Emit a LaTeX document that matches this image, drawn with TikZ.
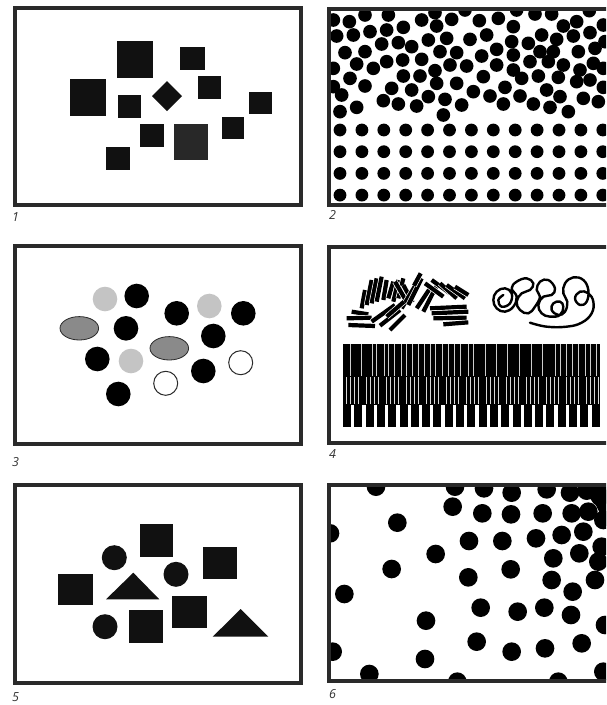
\documentclass[tikz,border=0pt]{standalone}
\usepackage{fontspec}
\newfontfamily\lblfont{Open Sans}
\definecolor{framegray}{HTML}{2A2A2A}
\definecolor{sqblack}{HTML}{111111}
\definecolor{sqdark}{HTML}{282828}
\definecolor{lightdot}{HTML}{C4C4C4}
\definecolor{ellgray}{HTML}{8A8A8A}
\definecolor{lblgray}{HTML}{333333}
\begin{document}
\begin{tikzpicture}[x=1pt,y=-1pt,
  frame/.style={draw=framegray, line width=4pt},
  sq/.style={fill=sqblack},
  dot/.style={fill=black},
  ltdot/.style={fill=lightdot},
  ell/.style={fill=ellgray, draw=framegray, line width=0.8pt},
  opendot/.style={fill=white, draw=framegray, line width=1pt},
  stk/.style={draw=black, line width=4.2pt, preaction={draw=white, line width=5.6pt}},
  scrib/.style={draw=black, line width=2.4pt, line cap=round, line join=round},
  lbl/.style={font=\lblfont\itshape\fontsize{12.5}{14}\selectfont, text=lblgray, anchor=base west, inner sep=0pt}]
\useasboundingbox (0,0) rectangle (606,705);
\fill[white] (0,0) rectangle (606,705);
\begin{scope}
\clip (0,0) rectangle (606,705);

% ---------------- Panel 1
\begin{scope}
\clip (17,10) rectangle (299,203);
\fill[sq] (117,41) rectangle (153,78);
\fill[sq] (180,47) rectangle (205,70);
\fill[sq] (70,79) rectangle (106,116);
\fill[sq] (167,81) -- (182,96) -- (167,111) -- (152,96) -- cycle;
\fill[sq] (118,95) rectangle (141,118);
\fill[sq] (198,76) rectangle (221,99);
\fill[sq] (249,92) rectangle (272,114);
\fill[sq] (140,124) rectangle (164,147);
\fill[sqdark] (174,124) rectangle (208,160);
\fill[sq] (222,117) rectangle (244,139);
\fill[sq] (106,147) rectangle (130,170);
\end{scope}
\draw[frame] (15,8) rectangle (301,205);
\node[lbl] (l1) at (12,221) {1};

% ---------------- Panel 2
\begin{scope}
\clip (331,11) rectangle (618,203);
\foreach \cx in {0,...,12}
  \foreach \cy in {0,...,3}
    \fill[dot] ({340+21.9*\cx},{130+21.7*\cy}) circle[radius=6.4];
\begin{scope}[shift={(320,0)}, scale=1/3]
\foreach \x/\y in {40/60, 88/65, 135/45, 205/45, 305/60, 345/38, 395/58, 435/30, 478/62, 535/55, 590/30, 645/42, 695/42, 770/65, 808/32, 850/75,
50/108, 100/105, 150/95, 200/90, 250/82, 350/78, 500/105, 580/80, 665/105, 730/78, 810/98, 710/118, 760/108,
75/158, 135/155, 185/132, 235/128, 275/140, 325/120, 380/115, 450/118, 360/155, 410/158, 530/148, 575/125, 580/165, 625/130, 660/155, 700/155, 775/155, 825/145, 855/125,
40/205, 110/192, 160/205, 200/185, 248/180, 305/178, 345/212, 390/195, 440/198, 485/168, 530/195, 580/210, 630/185, 685/185, 730/195, 780/210, 820/190, 850/205,
90/235, 135/258, 40/260, 250/228, 300/228, 350/250, 410/250, 490/230, 555/262, 605/235, 655/228, 715/232, 770/245, 810/240, 850/262, 215/265, 275/270, 460/275,
65/285, 60/335, 110/322, 190/302, 235/312, 290/318, 325/290, 375/298, 370/345, 425/315, 510/288, 550/312, 600/288, 640/312, 690/322, 680/270, 720/290, 745/335, 790/295, 835/305}
  \fill[dot] (\x,\y) circle[radius=20.5];
\end{scope}
\end{scope}
\draw[frame] (329,9) rectangle (620,205);
\node[lbl] (l2) at (329,219) {2};

% ---------------- Panel 3
\begin{scope}
\clip (17,248) rectangle (299,442);
\fill[ltdot] (105,299) circle[radius=12.3];
\fill[dot] (136.7,296) circle[radius=12.3];
\fill[dot] (176.7,313.3) circle[radius=12.3];
\fill[ltdot] (209.3,306) circle[radius=12.3];
\fill[dot] (243.3,313.3) circle[radius=12.3];
\filldraw[ell] (79.3,328.3) ellipse[x radius=19.3, y radius=11.7];
\fill[dot] (126,328.3) circle[radius=12.3];
\fill[dot] (213.3,336) circle[radius=12.3];
\filldraw[ell] (169.3,348.3) ellipse[x radius=19.3, y radius=11.7];
\fill[dot] (97.3,359) circle[radius=12.3];
\fill[ltdot] (131,361) circle[radius=12.3];
\filldraw[opendot] (240.7,362.7) circle[radius=12];
\fill[dot] (203.3,371) circle[radius=12.3];
\filldraw[opendot] (165.7,383.3) circle[radius=12];
\fill[dot] (118.3,394) circle[radius=12.3];
\end{scope}
\draw[frame] (15,246) rectangle (301,444);
\node[lbl] (l3) at (12,466) {3};

% ---------------- Panel 4
\begin{scope}
\clip (331,249) rectangle (618,441);
% sticks
\begin{scope}[shift={(340,265)}, scale=1/3]
\foreach \a/\b/\c/\d in {
 35/140/85/148, 20/160/95/158, 25/180/105/183,
 65/130/75/75, 80/120/95/45, 95/115/110/40, 110/110/125/35,
 130/105/140/45, 145/100/160/50, 160/110/175/45, 175/100/190/40,
 165/50/200/110, 190/60/218/112,
 185/130/230/55, 205/120/245/40, 222/62/242/25,
 95/170/165/120, 120/182/180/135, 150/195/195/150, 140/155/192/110,
 230/130/270/70, 250/140/290/62,
 255/55/310/95, 275/45/330/85, 300/55/350/100, 320/60/375/100, 345/65/385/90,
 270/130/380/125, 275/145/385/140, 280/160/380/158, 310/178/385/172}
  \draw[stk] (\a,\b) -- (\c,\d);
\end{scope}
% scribble
\begin{scope}[shift={(480,270)}, scale=1/3]
\draw[scrib] plot[smooth, tension=0.7] coordinates {(150,158) (200,170) (260,170) (305,158) (335,130) (340,95) (325,70) (300,65) (285,85) (300,105) (320,95) (325,60) (310,30) (280,22) (255,40) (250,70) (262,95) (255,125) (235,135) (215,120) (220,100) (240,95) (250,110) (240,135) (210,140) (185,130) (175,105) (190,80) (215,75) (225,55) (205,30) (180,35) (170,60) (180,80) (165,110) (145,130) (120,120) (110,95) (125,70) (150,60) (160,40) (140,25) (110,35) (95,55) (110,80) (100,110) (75,125) (50,115) (40,90) (50,65) (75,55) (95,70) (90,100) (65,110) (55,90) (70,75)};
\end{scope}
% barcode
\fill[black] (343,344) rectangle (600,405);
\foreach \x in {350, 361, 372.7, 376.7, 384.3, 388.3, 394.3, 401, 406.7, 412.3, 418.3, 424.3, 430, 435.7, 442.3, 448.3, 454.3, 460, 468.3, 473.3, 485, 496, 507.3, 519.3, 531.7, 542.7, 555, 560.7, 566.7, 572.7, 578.3, 585, 590.7, 596}
  \draw[white!80!black, line width=0.9pt] (\x,344) -- (\x,376);
\foreach \k in {0,...,63} {
  \pgfmathtruncatemacro{\m}{mod(\k,5)}
  \ifnum\m<4
    \draw[white!85!black, line width=0.9pt] ({346+4*\k},377) -- ({346+4*\k},404);
  \fi
}
\foreach \k in {0,...,22}
  \fill[black] ({343+11.3*\k},405) rectangle ({351+11.3*\k},427);
\end{scope}
\draw[frame] (329,247) rectangle (620,443);
\node[lbl] (l4) at (329,458) {4};

% ---------------- Panel 5
\begin{scope}
\clip (17,487) rectangle (299,681);
\fill[sq] (140,524) rectangle (173.3,556.7);
\fill[sq] (114.3,557.7) circle[radius=12.5];
\fill[sq] (203,546.7) rectangle (237,579.3);
\fill[sq] (176,574.3) circle[radius=12.5];
\fill[sq] (58.3,573.7) rectangle (93.3,605);
\fill[sq] (106,599.3) -- (159.3,599.3) -- (133.3,572.7) -- cycle;
\fill[sq] (105,626.7) circle[radius=12.5];
\fill[sq] (129,610) rectangle (163,642.7);
\fill[sq] (172,596) rectangle (207,627.7);
\fill[sq] (212.7,636.7) -- (268.3,636.7) -- (240.7,609) -- cycle;
\end{scope}
\draw[frame] (15,485) rectangle (301,683);
\node[lbl] (l5) at (12,701) {5};

% ---------------- Panel 6
\begin{scope}
\clip (331,487) rectangle (618,679);
\begin{scope}[shift={(320,470)}, scale=1/3]
\fill[dot] (780,40) -- (870,40) -- (870,170) -- (848,165) -- (840,130) -- (825,100) -- (810,85) -- (790,75) -- cycle;
\foreach \x/\y in {168/50, 405/50, 492/55, 575/68, 680/58, 750/68, 800/62, 840/80,
398/110, 232/158, 487/130, 573/133, 668/130, 755/130, 805/125, 850/150,
30/190, 447/213, 547/213, 648/205, 725/195, 790/185, 845/230,
347/252, 700/265, 778/250, 835/275,
215/297, 572/298, 445/322, 695/330, 825/330,
73/372, 758/365,
482/413, 593/425, 673/413, 753/435, 855/465,
318/452,
38/545, 470/515, 575/545, 675/535, 785/520,
315/567, 148/612, 412/635, 715/635, 850/605}
  \fill[dot] (\x,\y) circle[radius=28];
\end{scope}
\end{scope}
\draw[frame] (329,485) rectangle (620,681);
\node[lbl] (l6) at (329,698) {6};

\end{scope}
\end{tikzpicture}
\end{document}
